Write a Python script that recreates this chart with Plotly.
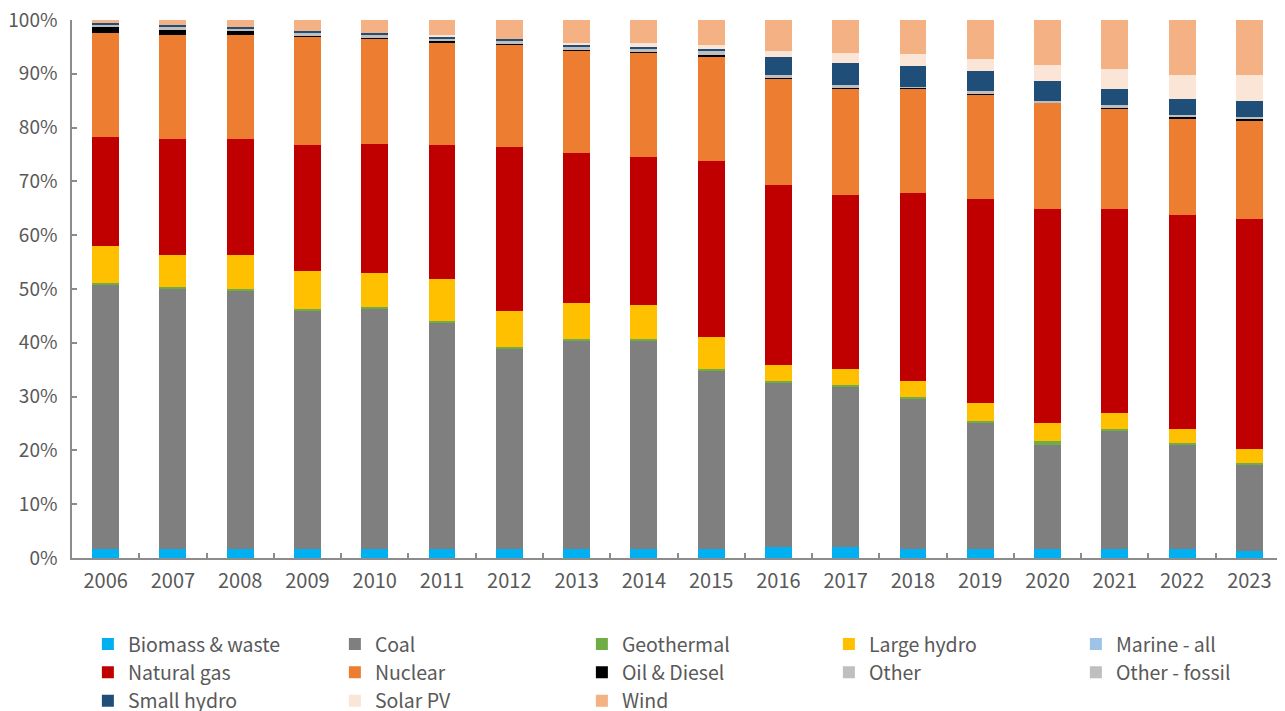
import plotly.graph_objects as go

years = ["2006", "2007", "2008", "2009", "2010", "2011", "2012", "2013", "2014",
         "2015", "2016", "2017", "2018", "2019", "2020", "2021", "2022", "2023"]

biomass = [1.7, 1.7, 1.7, 1.7, 1.7, 1.7, 1.7, 1.7, 1.7, 1.7, 2.0, 2.0, 1.7, 1.7, 1.7, 1.7, 1.7, 1.3]
coal = [49.0, 48.3, 47.9, 44.2, 44.6, 42.0, 37.1, 38.6, 38.6, 33.1, 30.5, 29.8, 27.9, 23.4, 19.3, 21.9, 19.3, 16.0]
geothermal = [0.4, 0.4, 0.4, 0.4, 0.4, 0.4, 0.4, 0.4, 0.4, 0.3, 0.4, 0.4, 0.3, 0.4, 0.7, 0.4, 0.4, 0.4]
large_hydro = [6.9, 5.9, 6.3, 7.0, 6.3, 7.8, 6.7, 6.7, 6.3, 6.0, 3.0, 2.9, 3.0, 3.3, 3.4, 3.0, 2.6, 2.6]
marine = [0, 0, 0, 0, 0, 0, 0, 0, 0, 0, 0, 0, 0, 0, 0, 0, 0, 0]
natural_gas = [20.2, 21.6, 21.6, 23.5, 24.0, 24.9, 30.5, 27.9, 27.5, 32.7, 33.4, 32.4, 34.9, 38.0, 39.8, 37.9, 39.8, 42.7]
nuclear = [19.4, 19.3, 19.3, 20.0, 19.5, 18.9, 19.0, 18.9, 19.4, 19.3, 19.7, 19.7, 19.4, 19.3, 19.7, 18.6, 17.8, 18.2]
oil_diesel = [1.1, 1.1, 0.8, 0.4, 0.3, 0.4, 0.3, 0.4, 0.3, 0.4, 0.4, 0.3, 0.3, 0.3, 0.0, 0.3, 0.4, 0.4]
other = [0.1, 0.1, 0.1, 0.1, 0.1, 0.1, 0.1, 0.1, 0.1, 0.2, 0.1, 0.1, 0.0, 0.1, 0.1, 0.1, 0.1, 0.1]
other_fossil = [0.3, 0.3, 0.25, 0.3, 0.3, 0.3, 0.3, 0.3, 0.3, 0.5, 0.3, 0.3, 0.1, 0.3, 0.2, 0.3, 0.2, 0.3]
small_hydro = [0.4, 0.4, 0.4, 0.4, 0.4, 0.3, 0.4, 0.4, 0.4, 0.4, 3.3, 4.1, 3.8, 3.7, 3.8, 3.0, 3.0, 2.9]
solar_pv = [0, 0, 0, 0, 0, 0.4, 0, 0.3, 0.7, 0.8, 1.1, 1.9, 2.2, 2.3, 2.9, 3.7, 4.5, 4.9]
wind = [0.5, 0.9, 1.3, 2.0, 2.4, 2.8, 3.5, 4.3, 4.3, 4.6, 5.8, 6.1, 6.5, 7.2, 8.4, 9.1, 10.2, 10.2]

series = [
    ("Biomass & waste", biomass, "#00B0F0"),
    ("Coal", coal, "#7F7F7F"),
    ("Geothermal", geothermal, "#70AD47"),
    ("Large hydro", large_hydro, "#FFC000"),
    ("Marine - all", marine, "#9DC3E6"),
    ("Natural gas", natural_gas, "#C00000"),
    ("Nuclear", nuclear, "#ED7D31"),
    ("Oil & Diesel", oil_diesel, "#000000"),
    ("Other", other, "#BFBFBF"),
    ("Other - fossil", other_fossil, "#BFBFBF"),
    ("Small hydro", small_hydro, "#1F4E79"),
    ("Solar PV", solar_pv, "#FBE5D6"),
    ("Wind", wind, "#F4B183"),
]

FONT = "Noto Sans CJK SC"
TXT = "#595959"

fig = go.Figure()
for name, vals, color in series:
    fig.add_trace(go.Bar(x=years, y=vals, name=name,
                         marker=dict(color=color, line=dict(width=0))))

fig.update_layout(
    barmode="stack",
    bargap=0.6,
    width=1285, height=711,
    margin=dict(l=64, r=10, t=12, b=161, autoexpand=False),
    paper_bgcolor="white", plot_bgcolor="white",
    font=dict(family=FONT, color=TXT, size=19),
    legend=dict(orientation="h", x=-0.0001, xanchor="left", y=-0.0945, yanchor="top",
                entrywidth=202, entrywidthmode="pixels", traceorder="normal",
                borderwidth=16, bordercolor="rgba(255,255,255,0)",
                bgcolor="rgba(255,255,255,0)",
                font=dict(family=FONT, size=19.5, color=TXT), itemclick=False),
    xaxis=dict(type="category", showline=True, linecolor="#8C8C8C", linewidth=1.5,
               ticks="inside", ticklen=5, tickcolor="#8C8C8C", tickwidth=1.5,
               tickson="boundaries", showgrid=False, automargin=False,
               ticklabelstandoff=4, ticklabeloverflow="allow",
               tickfont=dict(family=FONT, size=20, color=TXT)),
    yaxis=dict(range=[0, 100], dtick=10, ticksuffix="%", showline=True,
               linecolor="#8C8C8C", linewidth=1.5, ticks="inside", ticklen=5,
               tickcolor="#8C8C8C", tickwidth=1.5, showgrid=False, zeroline=False,
               automargin=False, ticklabelstandoff=9, ticklabeloverflow="allow",
               tickfont=dict(family=FONT, size=19, color=TXT)),
)

fig.write_html("out.html")
